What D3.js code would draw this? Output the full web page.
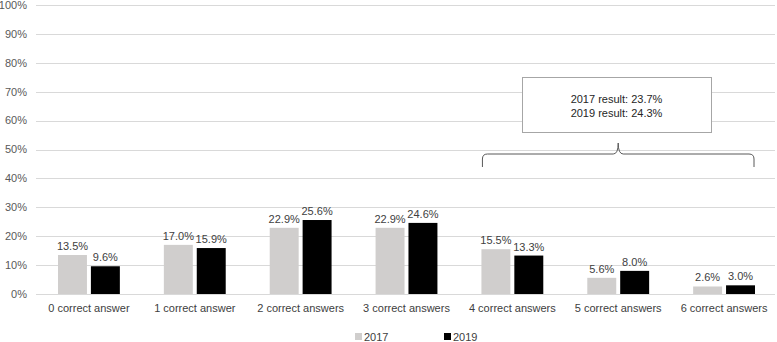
<!DOCTYPE html>
<html>
<head>
<meta charset="utf-8">
<script src="https://cdn.jsdelivr.net/npm/d3@7"></script>
<style>
  body { margin: 0; background: #fff; }
  svg { display: block; font-family: "Liberation Sans", Arial, sans-serif; }
</style>
</head>
<body>
<svg id="chart" width="777" height="342"></svg>
<script>
const categories = ["0 correct answer", "1 correct answer", "2 correct answers", "3 correct answers",
  "4 correct answers", "5 correct answers", "6 correct answers"];
const series = ["2017", "2019"];
const values2017 = [13.5, 17.0, 22.9, 22.9, 15.5, 5.6, 2.6];
const values2019 = [9.6, 15.9, 25.6, 24.6, 13.3, 8.0, 3.0];
const yTicks = [0, 10, 20, 30, 40, 50, 60, 70, 80, 90, 100];
const noteLines = ["2017 result: 23.7%", "2019 result: 24.3%"];
const braceFrom = "4 correct answers", braceTo = "6 correct answers";

const colors = { "2017": "#d0cecd", "2019": "#000000" };
const margin = { top: 5, right: 0, bottom: 48, left: 36 };
const W = 777, H = 342;
const innerW = W - margin.left - margin.right;

const svg = d3.select("#chart");
const g = svg.append("g").attr("transform", `translate(${margin.left},${margin.top})`);

const x = d3.scaleBand().domain(categories).range([0, innerW]).paddingInner(0).paddingOuter(0);
const xs = d3.scaleBand().domain(series).range([22, x.bandwidth() - 22]).paddingInner(0.12);
const y = d3.scaleLinear().domain([0, 100]).range([289, 0]);

// gridlines
g.selectAll(".grid").data(yTicks).enter().append("line")
  .attr("x1", 0).attr("x2", innerW - 2)
  .attr("y1", d => Math.round(y(d)) + 0.5).attr("y2", d => Math.round(y(d)) + 0.5)
  .attr("stroke", "#d9d9d9").attr("stroke-width", 1);

// y axis labels
g.selectAll(".ylab").data(yTicks).enter().append("text")
  .attr("x", -9).attr("y", d => y(d)).attr("dy", "0.35em")
  .attr("text-anchor", "end").attr("font-size", 11).attr("fill", "#595959")
  .text(d => d + "%");

const rows = categories.map((c, i) => ({ cat: c, vals: [
  { s: "2017", v: values2017[i] }, { s: "2019", v: values2019[i] }] }));

const grp = g.selectAll(".cat").data(rows).enter().append("g")
  .attr("transform", d => `translate(${x(d.cat)},0)`);

grp.selectAll("rect").data(d => d.vals).enter().append("rect")
  .attr("x", d => xs(d.s)).attr("width", xs.bandwidth())
  .attr("y", d => y(d.v)).attr("height", d => y(0) - y(d.v))
  .attr("fill", d => colors[d.s]);

grp.selectAll(".val").data(d => d.vals).enter().append("text")
  .attr("x", d => xs(d.s) + xs.bandwidth() / 2).attr("y", d => y(d.v) - 5)
  .attr("text-anchor", "middle").attr("font-size", 11).attr("fill", "#404040")
  .text(d => d.v.toFixed(1) + "%");

// category labels
g.selectAll(".xlab").data(categories).enter().append("text")
  .attr("x", d => x(d) + x.bandwidth() / 2).attr("y", 303)
  .attr("dy", "0.35em").attr("text-anchor", "middle")
  .attr("font-size", 11).attr("fill", "#404040").text(d => d);

// brace over the bars of 4..6 correct answers
const bx0 = x(braceFrom) + xs("2017") + 1, bx1 = x(braceTo) + xs("2019") + xs.bandwidth() - 1;
const bm = (bx0 + bx1) / 2;
const yTip = 143 - margin.top, yMid = 154 - margin.top, yEnd = 167 - margin.top;
const r = 5;
const bracePath = `M${bx0},${yEnd} L${bx0},${yMid + r} Q${bx0},${yMid} ${bx0 + r},${yMid}
  L${bm - r},${yMid} Q${bm},${yMid} ${bm},${yTip} Q${bm},${yMid} ${bm + r},${yMid}
  L${bx1 - r},${yMid} Q${bx1},${yMid} ${bx1},${yMid + r} L${bx1},${yEnd}`;
g.append("path").attr("d", bracePath).attr("fill", "none")
  .attr("stroke", "#595959").attr("stroke-width", 1);

// note box
const boxX = 522 - margin.left, boxY = 77 - margin.top, boxW = 189, boxH = 55;
g.append("rect").attr("x", boxX + 0.5).attr("y", boxY + 0.5).attr("width", boxW).attr("height", boxH)
  .attr("fill", "#fff").attr("stroke", "#a6a6a6");
g.selectAll(".note").data(noteLines).enter().append("text")
  .attr("x", boxX + boxW / 2).attr("y", (d, i) => boxY + 22 + i * 14)
  .attr("dy", "0.35em").attr("text-anchor", "middle")
  .attr("font-size", 11).attr("fill", "#262626").text(d => d);

// legend
const legend = svg.append("g").attr("transform", "translate(0,337)");
const lx = { "2017": 355, "2019": 444 };
series.forEach(s => {
  legend.append("rect").attr("x", lx[s]).attr("y", -4).attr("width", 7).attr("height", 7).attr("fill", colors[s]);
  legend.append("text").attr("x", lx[s] + 9).attr("y", 0).attr("dy", "0.35em")
    .attr("font-size", 11).attr("fill", "#404040").text(s);
});
</script>
</body>
</html>
